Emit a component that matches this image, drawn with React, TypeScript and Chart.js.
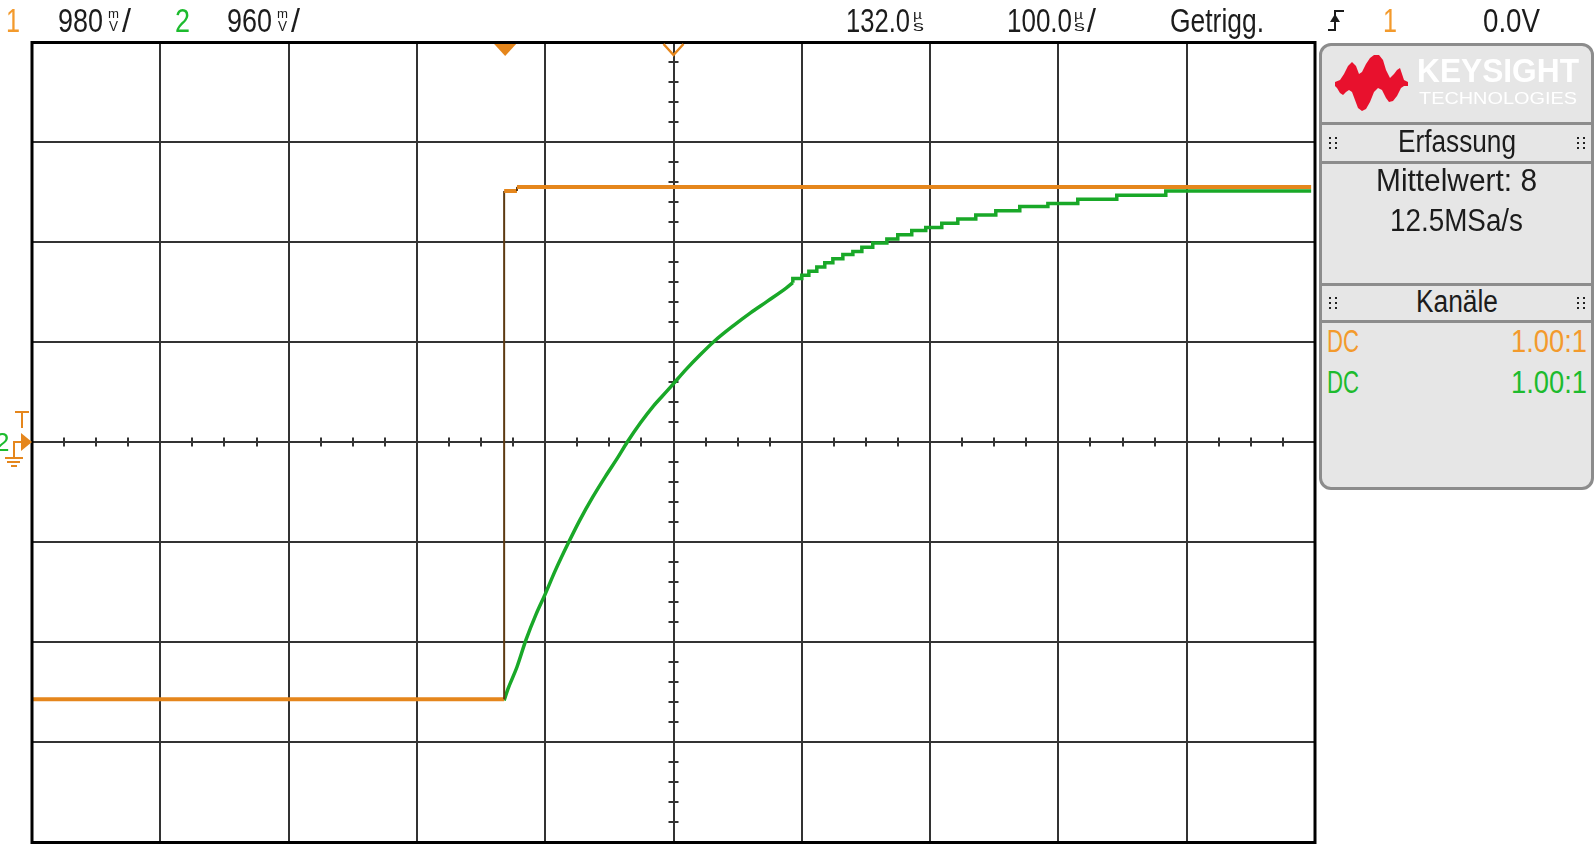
import React, { useEffect, useLayoutEffect, useRef } from "react";
import { Chart, registerables } from "chart.js";
Chart.register(...registerables);

const W = 1594;
const H = 855;
const FONT = '"Liberation Sans", Arial, sans-serif';
const ORANGE = "#e5861c";
const ORANGE_TXT = "#f39a2c";
const GREEN = "#19a828";
const GREEN_TXT = "#1dbb2e";
const GRID = "#333333";

// Scope settings (read from the header)
const ch1VoltsPerDiv = 0.98;
const ch2VoltsPerDiv = 0.96;
const timePerDiv = 100; // µs / div
const timeDelay = 132.0; // µs at screen centre
const triggerZero = 0.0; // V, ground / trigger level
const xDivisions = [-5, -4, -3, -2, -1, 0, 1, 2, 3, 4, 5];
const yDivisions = [-4, -3, -2, -1, 0, 1, 2, 3, 4];

// Channel 1 (orange): step input, time in µs, volts
const ch1Times = [-368, 0, 0, 10, 10, 629];
const ch1Volts = [-2.52, -2.52, 2.46, 2.46, 2.5, 2.5];

// Channel 2 (green): RC charge, steep part
const ch2Times = [0, 3, 10, 17, 25, 32, 40, 50, 59, 69, 79, 88, 96, 106, 116, 127, 132, 142, 153, 164, 179, 192, 205, 220, 225];
const ch2Volts = [-2.48, -2.37, -2.16, -1.9, -1.65, -1.46, -1.23, -0.97, -0.75, -0.53, -0.33, -0.16, 0.0, 0.18, 0.34, 0.49, 0.56, 0.7, 0.84, 0.97, 1.12, 1.24, 1.35, 1.48, 1.53];

// Channel 2 (green): quantised flat part (steps)
const ch2StepTimes = [225, 232, 237.5, 243.7, 249.9, 256.2, 264, 271.8, 278.8, 287.3, 298.3, 306.8, 317.7, 328.6, 341.1, 353.6, 367.6, 383.2, 401.9, 423.8, 447.1, 477.5, 515.7, 569.5, 629];
const ch2StepVolts = [1.53, 1.57, 1.6, 1.64, 1.68, 1.72, 1.76, 1.8, 1.83, 1.87, 1.91, 1.95, 1.99, 2.03, 2.06, 2.1, 2.14, 2.18, 2.22, 2.26, 2.29, 2.33, 2.37, 2.41, 2.41];

const PLOT = { left: 32, top: 42, right: 1315, bottom: 842 };

const toXY = (xs: number[], ys: number[]) => xs.map((x, i) => ({ x, y: ys[i] }));

const scopeDecor = {
  id: "scopeDecor",
  beforeDatasetsDraw(chart: any) {
    const { ctx, scales } = chart;
    const xs = scales.x;
    const ys = scales.y;
    const cx = xs.getPixelForValue(timeDelay);
    const cy = ys.getPixelForValue(triggerZero);
    ctx.save();
    ctx.strokeStyle = GRID;
    ctx.lineWidth = 2;
    ctx.beginPath();
    for (let k = -19; k <= 19; k++) {
      const px = Math.round(xs.getPixelForValue(timeDelay + (k / 4) * timePerDiv));
      ctx.moveTo(px, cy - 4.5);
      ctx.lineTo(px, cy + 4.5);
    }
    for (let k = -19; k <= 19; k++) {
      const py = Math.round(ys.getPixelForValue((k / 5) * ch1VoltsPerDiv));
      ctx.moveTo(cx - 5, py);
      ctx.lineTo(cx + 5, py);
    }
    ctx.stroke();
    ctx.restore();
  },
  afterDatasetsDraw(chart: any) {
    const { ctx, chartArea: a, scales } = chart;
    const xs = scales.x;
    const ys = scales.y;
    const cx = xs.getPixelForValue(timeDelay);
    const cy = Math.round(ys.getPixelForValue(triggerZero));
    const tx = xs.getPixelForValue(0);
    ctx.save();
    // frame
    ctx.strokeStyle = "#000";
    ctx.lineWidth = 3;
    ctx.strokeRect(a.left, a.top + 0.5, a.right - a.left, a.bottom - a.top);
    // trigger position (filled) and delay reference (hollow)
    ctx.fillStyle = ORANGE;
    ctx.beginPath();
    ctx.moveTo(tx - 10, a.top + 2);
    ctx.lineTo(tx + 12, a.top + 2);
    ctx.lineTo(tx + 1, a.top + 14);
    ctx.closePath();
    ctx.fill();
    ctx.strokeStyle = ORANGE;
    ctx.lineWidth = 2.5;
    ctx.beginPath();
    ctx.moveTo(cx - 10, a.top + 2);
    ctx.lineTo(cx, a.top + 13);
    ctx.lineTo(cx + 10, a.top + 2);
    ctx.stroke();
    // channel 2 ground marker (mostly hidden)
    ctx.fillStyle = GREEN_TXT;
    ctx.font = `26px ${FONT}`;
    ctx.fillText("2", -5, cy + 9);
    // channel 1 ground marker + trigger level
    ctx.fillStyle = ORANGE;
    ctx.beginPath();
    ctx.moveTo(a.left - 11, cy - 9);
    ctx.lineTo(a.left, cy);
    ctx.lineTo(a.left - 11, cy + 9);
    ctx.closePath();
    ctx.fill();
    ctx.fillRect(13, cy - 1, a.left - 22, 2);
    ctx.fillRect(13, cy - 1, 2, 16);
    ctx.fillRect(5, cy + 15, 18, 2);
    ctx.fillRect(7, cy + 19, 13, 2);
    ctx.fillRect(11, cy + 23, 6, 2);
    ctx.fillRect(15, cy - 31, 14, 2);
    ctx.fillRect(21, cy - 29, 2, 15);
    ctx.restore();
  },
};

function FitText(props: { text: string; x0: number; x1: number; base: number; size: number; color?: string; weight?: number }) {
  const { text, x0, x1, base, size, color = "#1c1c1c", weight = 400 } = props;
  const ref = useRef<HTMLSpanElement>(null);
  useLayoutEffect(() => {
    const el = ref.current;
    if (!el) return;
    el.style.transform = "none";
    const w = el.getBoundingClientRect().width;
    if (w > 0) el.style.transform = `scaleX(${(x1 - x0) / w})`;
  }, [text, x0, x1]);
  return (
    <span
      ref={ref}
      style={{
        position: "absolute",
        left: x0,
        top: base - 0.8465 * size,
        fontSize: size,
        lineHeight: `${size}px`,
        fontFamily: FONT,
        fontWeight: weight,
        color,
        whiteSpace: "nowrap",
        transformOrigin: "left top",
        display: "inline-block",
      }}
    >
      {text}
    </span>
  );
}

function Dots({ x, y }: { x: number; y: number }) {
  const d = [];
  for (let r = 0; r < 3; r++)
    for (let c = 0; c < 2; c++)
      d.push(
        <div key={`${r}-${c}`} style={{ position: "absolute", left: x + c * 5.5, top: y + r * 5, width: 2, height: 2, background: "#222" }} />
      );
  return <>{d}</>;
}

export default function App() {
  const canvasRef = useRef<HTMLCanvasElement>(null);
  useEffect(() => {
    const chart = new Chart(canvasRef.current as HTMLCanvasElement, {
      type: "line",
      data: {
        datasets: [
          {
            label: "1",
            data: toXY(ch1Times, ch1Volts),
            yAxisID: "y",
            borderColor: ORANGE,
            borderWidth: 4,
            pointRadius: 0,
            segment: {
              borderColor: (c: any) => (c.p0.parsed.x === c.p1.parsed.x ? "#5c3a12" : undefined),
              borderWidth: (c: any) => (c.p0.parsed.x === c.p1.parsed.x ? 2 : undefined),
            },
          },
          {
            label: "2",
            data: toXY(ch2Times, ch2Volts),
            yAxisID: "y2",
            borderColor: GREEN,
            borderWidth: 3.5,
            pointRadius: 0,
            cubicInterpolationMode: "monotone",
          },
          {
            label: "2 steps",
            data: toXY(ch2StepTimes, ch2StepVolts),
            yAxisID: "y2",
            borderColor: GREEN,
            borderWidth: 3.5,
            pointRadius: 0,
            stepped: "after",
          },
        ],
      } as any,
      options: {
        animation: false,
        responsive: false,
        maintainAspectRatio: false,
        layout: { padding: { left: PLOT.left, top: PLOT.top, right: W - PLOT.right, bottom: H - PLOT.bottom } },
        plugins: { legend: { display: false }, tooltip: { enabled: false } },
        elements: { point: { radius: 0 } },
        scales: {
          x: {
            type: "linear",
            min: timeDelay + xDivisions[0] * timePerDiv,
            max: timeDelay + xDivisions[xDivisions.length - 1] * timePerDiv,
            afterBuildTicks: (s: any) => {
              s.ticks = xDivisions.map((d) => ({ value: timeDelay + d * timePerDiv }));
            },
            ticks: { display: false },
            grid: { color: GRID, lineWidth: 2, drawTicks: false },
            border: { display: false },
          },
          y: {
            type: "linear",
            min: yDivisions[0] * ch1VoltsPerDiv,
            max: yDivisions[yDivisions.length - 1] * ch1VoltsPerDiv,
            afterBuildTicks: (s: any) => {
              s.ticks = yDivisions.map((d) => ({ value: d * ch1VoltsPerDiv }));
            },
            ticks: { display: false },
            grid: { color: GRID, lineWidth: 2, drawTicks: false },
            border: { display: false },
          },
          y2: {
            type: "linear",
            display: false,
            min: yDivisions[0] * ch2VoltsPerDiv,
            max: yDivisions[yDivisions.length - 1] * ch2VoltsPerDiv,
          },
        },
      } as any,
      plugins: [scopeDecor],
    });
    return () => chart.destroy();
  }, []);

  const HB = 31.5; // header baseline
  const HS = 33;
  const PS = 31;
  const logoTop = [
    [1335, 82], [1340, 80], [1344, 74], [1348, 66], [1352, 62], [1356, 66], [1359, 74], [1362, 72], [1366, 64], [1370, 58],
    [1374, 55], [1379, 55], [1383, 60], [1386, 70], [1390, 78], [1394, 74], [1397, 70], [1400, 68], [1402, 74], [1404, 80], [1408, 82],
  ];
  const logoBottom = [
    [1408, 86], [1404, 86], [1401, 88], [1397, 96], [1393, 101], [1389, 102], [1386, 98], [1382, 90], [1378, 88], [1374, 92],
    [1370, 102], [1366, 109], [1362, 111], [1358, 108], [1355, 100], [1352, 92], [1349, 90], [1346, 92], [1343, 95], [1340, 93], [1337, 88], [1335, 86],
  ];
  const logoPts = [...logoTop, ...logoBottom].map((p) => p.join(",")).join(" ");

  return (
    <div style={{ position: "relative", width: W, height: H, overflow: "hidden", background: "#fff", fontFamily: FONT }}>
      <style>{`html,body{margin:0;padding:0;background:#fff;}`}</style>
      <canvas ref={canvasRef} width={W} height={H} style={{ position: "absolute", left: 0, top: 0, width: W, height: H, display: "block" }} />

      {/* header */}
      <FitText text="1" x0={6} x1={20} base={HB} size={HS} color={ORANGE_TXT} />
      <FitText text="980" x0={58} x1={103} base={HB} size={HS} />
      <FitText text="m" x0={108} x1={119} base={18} size={13} />
      <FitText text="V" x0={109} x1={118} base={31} size={14} />
      <FitText text="/" x0={122} x1={131} base={HB} size={HS} />
      <FitText text="2" x0={175} x1={190} base={HB} size={HS} color={GREEN_TXT} />
      <FitText text="960" x0={227} x1={272} base={HB} size={HS} />
      <FitText text="m" x0={277} x1={288} base={18} size={13} />
      <FitText text="V" x0={278} x1={287} base={31} size={14} />
      <FitText text="/" x0={291} x1={300} base={HB} size={HS} />
      <FitText text="132.0" x0={846} x1={910} base={HB} size={HS} />
      <FitText text="µ" x0={913} x1={922} base={19} size={13} />
      <FitText text="s" x0={913} x1={924} base={31} size={15} />
      <FitText text="100.0" x0={1007} x1={1072} base={HB} size={HS} />
      <FitText text="µ" x0={1074} x1={1083} base={19} size={13} />
      <FitText text="s" x0={1074} x1={1085} base={31} size={15} />
      <FitText text="/" x0={1087} x1={1096} base={HB} size={HS} />
      <FitText text="Getrigg." x0={1170} x1={1264} base={HB} size={HS} />
      <svg style={{ position: "absolute", left: 0, top: 0 }} width={W} height={50}>
        <path d="M1328 30 H1335 V11 H1344" stroke="#1c1c1c" strokeWidth={2} fill="none" />
        <polygon points="1335,14 1330,22 1340,22" fill="#1c1c1c" />
      </svg>
      <FitText text="1" x0={1383} x1={1397} base={HB} size={HS} color={ORANGE_TXT} />
      <FitText text="0.0V" x0={1483} x1={1540} base={HB} size={HS} />

      {/* side panel */}
      <div
        style={{
          position: "absolute",
          left: 1319,
          top: 43,
          width: 275,
          height: 447,
          boxSizing: "border-box",
          border: "3px solid #8c8c8c",
          borderRadius: 12,
          background: "#e6e6e6",
        }}
      />
      {[122, 161, 283, 320].map((t) => (
        <div key={t} style={{ position: "absolute", left: 1321, top: t, width: 271, height: 2.5, background: "#8c8c8c" }} />
      ))}
      <svg style={{ position: "absolute", left: 0, top: 0 }} width={W} height={130}>
        <polygon points={logoPts} fill="#e8112d" />
      </svg>
      <FitText text="KEYSIGHT" x0={1417} x1={1579} base={82} size={33} weight={700} color="#ffffff" />
      <FitText text="TECHNOLOGIES" x0={1419} x1={1577} base={104} size={17} color="#ffffff" />
      <Dots x={1329} y={137} />
      <Dots x={1577} y={137} />
      <FitText text="Erfassung" x0={1398} x1={1516} base={152} size={PS} />
      <FitText text="Mittelwert: 8" x0={1376} x1={1537} base={191.5} size={PS} />
      <FitText text="12.5MSa/s" x0={1390} x1={1523} base={231.5} size={PS} />
      <Dots x={1329} y={297} />
      <Dots x={1577} y={297} />
      <FitText text="Kanäle" x0={1416} x1={1498} base={312.5} size={PS} />
      <FitText text="DC" x0={1327} x1={1359} base={352.5} size={PS} color={ORANGE_TXT} />
      <FitText text="1.00:1" x0={1511} x1={1587} base={352.5} size={PS} color={ORANGE_TXT} />
      <FitText text="DC" x0={1327} x1={1359} base={393} size={PS} color={GREEN_TXT} />
      <FitText text="1.00:1" x0={1511} x1={1587} base={393} size={PS} color={GREEN_TXT} />
    </div>
  );
}
